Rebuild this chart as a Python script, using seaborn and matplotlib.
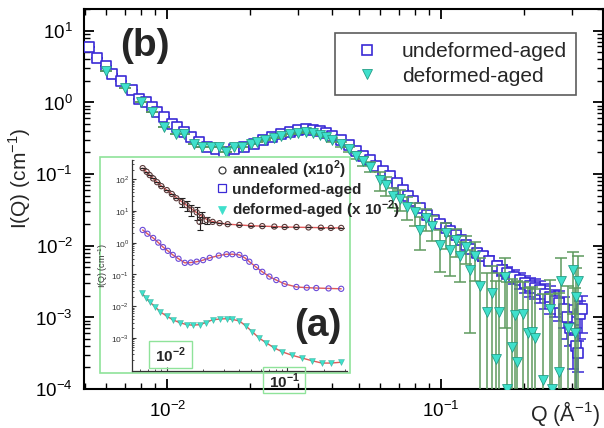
import numpy as np
import matplotlib
matplotlib.use("Agg")
import matplotlib.pyplot as plt
from matplotlib.lines import Line2D
from matplotlib.patches import Rectangle
import matplotlib.ticker as mticker
import seaborn as sns

# ---------------- main panel (b) data ----------------
q_undeformed = [0.00519, 0.00556, 0.00598, 0.0063, 0.0068, 0.00745, 0.0079, 0.00838, 0.0088, 0.0092,
                0.00975, 0.0104, 0.0109, 0.0115, 0.0122, 0.0131, 0.0140, 0.0151, 0.0161, 0.0176,
                0.0191, 0.0208, 0.0224, 0.0242, 0.026, 0.028, 0.030, 0.032, 0.034, 0.036,
                0.038, 0.040, 0.043, 0.046, 0.049, 0.052, 0.055, 0.058, 0.0615, 0.065,
                0.069, 0.0727, 0.076, 0.079, 0.084, 0.089, 0.094, 0.099, 0.104, 0.108,
                0.113, 0.118, 0.123, 0.128, 0.135, 0.142, 0.150, 0.160, 0.167, 0.174,
                0.184, 0.194, 0.202, 0.211, 0.220, 0.230, 0.240, 0.250, 0.260, 0.270,
                0.280, 0.288, 0.295, 0.303, 0.310, 0.316, 0.322, 0.326]
i_undeformed = [5.9, 4.2, 3.2, 2.5, 2.0, 1.5, 1.1, 1.0, 0.85, 0.72,
                0.62, 0.49, 0.45, 0.38, 0.33, 0.28, 0.235, 0.22, 0.205, 0.22,
                0.235, 0.26, 0.30, 0.33, 0.36, 0.39, 0.41, 0.42, 0.41, 0.40,
                0.37, 0.34, 0.30, 0.25, 0.21, 0.18, 0.155, 0.13, 0.11, 0.095,
                0.075, 0.060, 0.050, 0.042, 0.033, 0.027, 0.023, 0.020, 0.0175, 0.016,
                0.014, 0.012, 0.0102, 0.009, 0.008, 0.0071, 0.0062, 0.0052, 0.0046, 0.0042,
                0.0037, 0.0033, 0.0030, 0.0027, 0.0026, 0.0024, 0.0021, 0.0019, 0.0017, 0.0016,
                0.0013, 0.0010, 0.0007, 0.00049, 0.0004, 0.00032, 0.0011, 0.0013]
err_undeformed = [0] * 47 + [0.002, 0.0018, 0.0016, 0.0015, 0.0014, 0.0012, 0.0011, 0.001, 0.001, 0.0009,
                             0.0009, 0.0008, 0.0008, 0.0008, 0.0008, 0.0008, 0.0008, 0.0008, 0.0008, 0.0008,
                             0.0008, 0.0007, 0.0007, 0.0006, 0.0005, 0.0003, 0.0003, 0.0003, 0.00015,
                             0.0006, 0.0007]

q_deformed = [0.0060, 0.0070, 0.0080, 0.0088, 0.00975, 0.0108, 0.0115, 0.0125, 0.0134, 0.0145,
              0.0155, 0.0164, 0.0176, 0.0188, 0.0203, 0.0213, 0.0228, 0.0245, 0.026, 0.028,
              0.030, 0.032, 0.034, 0.036, 0.038, 0.040, 0.043, 0.046, 0.049, 0.052,
              0.055, 0.0598, 0.063, 0.0669, 0.071, 0.075, 0.080, 0.084, 0.088, 0.093,
              0.099, 0.104, 0.108, 0.113, 0.1176, 0.123, 0.128, 0.133, 0.139, 0.147,
              0.154, 0.158, 0.163, 0.171, 0.174, 0.181, 0.186, 0.190, 0.199, 0.208,
              0.215, 0.220, 0.235, 0.250, 0.255, 0.270, 0.275, 0.290, 0.303, 0.308,
              0.312, 0.315]
i_deformed = [2.7, 1.6, 1.0, 0.72, 0.45, 0.36, 0.36, 0.26, 0.24, 0.235,
              0.235, 0.205, 0.24, 0.24, 0.26, 0.28, 0.30, 0.32, 0.34, 0.36,
              0.37, 0.38, 0.37, 0.35, 0.33, 0.30, 0.26, 0.22, 0.18, 0.15,
              0.125, 0.083, 0.07, 0.049, 0.045, 0.035, 0.029, 0.0167, 0.024, 0.0186,
              0.0103, 0.015, 0.0088, 0.012, 0.0071, 0.0095, 0.0046, 0.0072, 0.0027, 0.0012,
              0.0022, 0.00026, 0.0012, 0.0037, 0.0001, 0.00039, 0.00108, 0.00024, 0.0011, 0.0006,
              0.00063, 0.00052, 0.000135, 0.0013, 0.0001, 0.00017, 0.0032, 0.0007, 0.0046, 0.0006,
              0.0019, 0.0032]
err_deformed = [0] * 25 + [0.02, 0.02, 0.02, 0.02, 0.02, 0.02, 0.025, 0.02, 0.015, 0.015,
                           0.012, 0.01, 0.008, 0.008, 0.007, 0.006, 0.006, 0.005, 0.005, 0.004,
                           0.004, 0.004, 0.004, 0.004, 0.003, 0.003, 0.003, 0.003, 0.003, 0.003,
                           0.003, 0.002, 0.003, 0.002, 0.002, 0.002, 0.002, 0.002, 0.002, 0.002,
                           0.002, 0.0035, 0.002, 0.0035, 0.002, 0.003, 0.004]

# ---------------- inset panel (a) data ----------------
q_ann = [0.0063, 0.0068, 0.0072, 0.0077, 0.0083, 0.0090, 0.0100, 0.0110, 0.0120, 0.0133,
         0.0146, 0.0160, 0.0177, 0.0187, 0.0195, 0.0214, 0.0240, 0.0274, 0.032, 0.040,
         0.050, 0.062, 0.078, 0.095, 0.119, 0.150, 0.190, 0.230, 0.280]
i_ann = [222, 170, 134, 105, 80, 60, 45, 34, 25, 19,
         15, 11, 9, 4.5, 6.5, 5.1, 4.5, 4.1, 3.8, 3.6,
         3.4, 3.3, 3.2, 3.1, 3.1, 3.0, 2.95, 2.9, 2.9]
err_ann = [0, 0, 0, 0, 0, 0, 0, 0, 0, 6,
           5, 4, 4, 2.0, 2.5, 1.2, 0, 0, 0, 0,
           0, 0, 0, 0, 0, 0, 0, 0, 0]
fit_ann = [222, 168, 134, 104, 80, 61, 45, 34, 26, 19.5,
           15, 11.5, 8.8, 7.6, 6.8, 5.4, 4.6, 4.1, 3.8, 3.6,
           3.4, 3.3, 3.2, 3.1, 3.05, 3.0, 2.95, 2.9, 2.9]

q_und_in = [0.0063, 0.0069, 0.0077, 0.0085, 0.0093, 0.0102, 0.0112, 0.0125, 0.0141, 0.0158,
            0.0177, 0.020, 0.0227, 0.027, 0.0313, 0.035, 0.040, 0.0445, 0.0484, 0.055,
            0.062, 0.071, 0.081, 0.095, 0.119, 0.145, 0.174, 0.220, 0.280]
i_und_in = [2.5, 1.9, 1.4, 1.0, 0.72, 0.55, 0.41, 0.31, 0.23, 0.235,
            0.25, 0.28, 0.33, 0.39, 0.43, 0.43, 0.41, 0.33, 0.25, 0.17,
            0.12, 0.085, 0.066, 0.05, 0.04, 0.038, 0.037, 0.036, 0.035]

q_def_in = [0.0062, 0.0067, 0.0072, 0.0080, 0.0088, 0.0100, 0.0112, 0.0128, 0.0146, 0.0165,
            0.0187, 0.021, 0.024, 0.0275, 0.0313, 0.035, 0.040, 0.045, 0.0513, 0.058,
            0.067, 0.078, 0.091, 0.110, 0.133, 0.160, 0.194, 0.230, 0.280]
i_def_in = [0.026, 0.018, 0.0135, 0.0095, 0.0066, 0.0048, 0.0037, 0.003, 0.0026, 0.0025,
            0.0026, 0.003, 0.0037, 0.0039, 0.004, 0.0038, 0.0034, 0.0024, 0.00155, 0.001,
            0.00069, 0.00048, 0.00036, 0.00028, 0.00023, 0.00019, 0.00016, 0.00016, 0.00017]

BLUE = "#3a2ad6"
CYAN = "#3fe0cc"
TEAL = "#259e86"
GREEN_ERR = "#5e9a5e"
FRAME_GREEN = "#8fe39a"
FIT_RED = "#e05a5a"

sns.set_theme(style="ticks")
plt.rcParams["font.family"] = ["Liberation Sans", "DejaVu Sans"]
plt.rcParams["mathtext.fontset"] = "custom"
plt.rcParams["mathtext.rm"] = "Liberation Sans"
plt.rcParams["mathtext.bf"] = "Liberation Sans:bold"

W, H = 604, 428
fig = plt.figure(figsize=(W / 100, H / 100), dpi=100)
fig.patch.set_facecolor("white")


def fx(px):
    return px / W


def fy(py):
    return 1 - py / H


ax = fig.add_axes([fx(84), fy(389), fx(603) - fx(84), fy(9) - fy(389)])
ax.set_xscale("log")
ax.set_yscale("log")

ax.errorbar(q_undeformed, i_undeformed, yerr=err_undeformed, fmt="none",
            ecolor=BLUE, elinewidth=1.1, capsize=4, capthick=1.1, zorder=2)
sns.scatterplot(x=q_undeformed, y=i_undeformed, marker="s", s=44, color=BLUE,
                facecolor="white", edgecolor=BLUE, linewidth=1.2, ax=ax, zorder=3)
ax.errorbar(q_deformed, i_deformed, yerr=err_deformed, fmt="none",
            ecolor=GREEN_ERR, elinewidth=1.1, capsize=4, capthick=1.1, zorder=4)
sns.scatterplot(x=q_deformed, y=i_deformed, marker="v", s=50, color=CYAN,
                edgecolor=TEAL, linewidth=0.6, ax=ax, zorder=5)

ax.set_xlim(0.00497, 0.39)
ax.set_ylim(1e-4, 20)
for side in ["top", "right", "left", "bottom"]:
    ax.spines[side].set_visible(True)
    ax.spines[side].set_linewidth(1.5)
    ax.spines[side].set_color("black")
ax.xaxis.set_major_locator(mticker.LogLocator(base=10, numticks=10))
ax.xaxis.set_minor_locator(mticker.LogLocator(base=10, subs=np.arange(2, 10), numticks=20))
ax.yaxis.set_major_locator(mticker.LogLocator(base=10, numticks=10))
ax.yaxis.set_minor_locator(mticker.LogLocator(base=10, subs=np.arange(2, 10), numticks=20))
ax.tick_params(which="both", direction="in", top=True, right=True, colors="black",
               labelsize=13.5, pad=8)
ax.tick_params(which="major", length=7, width=1.3)
ax.tick_params(which="minor", length=4, width=1.0)
ax.set_xticks([0.01, 0.1])
ax.set_xticklabels(["$10^{-2}$", "$10^{-1}$"])
ax.set_yticks([1e-4, 1e-3, 1e-2, 1e-1, 1, 10])
ax.set_yticklabels(["$10^{-4}$", "$10^{-3}$", "$10^{-2}$", "$10^{-1}$", "$10^{0}$", "$10^{1}$"])
ax.set_xlim(0.00497, 0.39)
ax.set_ylim(1e-4, 20)
ax.set_xlabel("")
ax.set_ylabel("")

fig.text(fx(20), fy(178), "I(Q) (cm$^{-1}$)", rotation=90, ha="center", va="center",
         fontsize=15)
fig.text(fx(600), fy(413), "Q (Å$^{-1}$)", ha="right", va="center", fontsize=15.5)
fig.text(fx(120), fy(46), "(b)", ha="left", va="center", fontsize=28, fontweight="bold")

main_handles = [
    Line2D([], [], linestyle="none", marker="s", markersize=7, markerfacecolor="white",
           markeredgecolor=BLUE, markeredgewidth=1.2),
    Line2D([], [], linestyle="none", marker="v", markersize=7.5, markerfacecolor=CYAN,
           markeredgecolor=TEAL, markeredgewidth=0.6),
]
leg = ax.legend(main_handles, ["undeformed-aged", "deformed-aged"], loc="upper left",
                bbox_to_anchor=(fx(335), fy(33)), bbox_transform=fig.transFigure,
                fontsize=15, frameon=True, fancybox=False, handletextpad=0.55,
                borderpad=0.45, labelspacing=0.25, handlelength=2.2, borderaxespad=0)
leg.get_frame().set_edgecolor("#333333")
leg.get_frame().set_linewidth(1.2)

# ---------------- inset ----------------
fig.patches.append(Rectangle((fx(100), fy(373)), fx(350) - fx(100), fy(157) - fy(373),
                             transform=fig.transFigure, facecolor="white",
                             edgecolor=FRAME_GREEN, linewidth=1.2, zorder=6))

axin = fig.add_axes([fx(132), fy(371), fx(347) - fx(132), fy(160) - fy(371)], zorder=7)
axin.set_xscale("log")
axin.set_yscale("log")
axin.patch.set_alpha(0)

sns.lineplot(x=q_ann, y=fit_ann, color=FIT_RED, linewidth=1.0, ax=axin, zorder=2)
axin.errorbar(q_ann, i_ann, yerr=err_ann, fmt="none", ecolor="#222222",
              elinewidth=0.8, capsize=2, capthick=0.8, zorder=3)
sns.scatterplot(x=q_ann, y=i_ann, marker="o", s=14, color="#5a3a3a", facecolor="none",
                edgecolor="#5a3a3a", linewidth=0.8, ax=axin, zorder=4)

sns.lineplot(x=q_und_in, y=i_und_in, color=FIT_RED, linewidth=1.0, ax=axin, zorder=2)
sns.scatterplot(x=q_und_in, y=i_und_in, marker="o", s=14, color="#6a4ad8", facecolor="none",
                edgecolor="#6a4ad8", linewidth=0.8, ax=axin, zorder=4)

sns.lineplot(x=q_def_in, y=i_def_in, color=FIT_RED, linewidth=1.0, ax=axin, zorder=2)
sns.scatterplot(x=q_def_in, y=i_def_in, marker="v", s=18, color=CYAN, edgecolor="#2aa890",
                linewidth=0.3, ax=axin, zorder=4)

axin.set_xlim(0.00514, 0.313)
axin.set_ylim(9e-5, 400)
for side in ["top", "right"]:
    axin.spines[side].set_visible(False)
for side in ["left", "bottom"]:
    axin.spines[side].set_linewidth(0.9)
    axin.spines[side].set_color("#333333")
axin.yaxis.set_major_locator(mticker.LogLocator(base=10, numticks=12))
axin.yaxis.set_minor_locator(mticker.LogLocator(base=10, subs=np.arange(2, 10), numticks=20))
axin.xaxis.set_major_locator(mticker.LogLocator(base=10, numticks=10))
axin.xaxis.set_minor_locator(mticker.LogLocator(base=10, subs=np.arange(2, 10), numticks=20))
axin.tick_params(which="both", direction="in", colors="#333333", labelsize=6, pad=2)
axin.tick_params(which="major", length=3, width=0.8)
axin.tick_params(which="minor", length=1.5, width=0.6)
axin.set_yticks([1e-3, 1e-2, 1e-1, 1, 10, 100])
axin.set_yticklabels(["$10^{-3}$", "$10^{-2}$", "$10^{-1}$", "$10^{0}$", "$10^{1}$", "$10^{2}$"])
axin.set_xticks([0.01, 0.1])
axin.set_xticklabels([])
axin.set_xlim(0.00514, 0.313)
axin.set_ylim(9e-5, 400)
axin.set_xlabel("")
axin.set_ylabel("I(Q) (cm$^{-1}$)", fontsize=6.5, labelpad=1, color="#333333")

inset_handles = [
    Line2D([], [], linestyle="none", marker="o", markersize=5, markerfacecolor="none",
           markeredgecolor="#3a3a3a", markeredgewidth=0.9),
    Line2D([], [], linestyle="none", marker="s", markersize=5.5, markerfacecolor="none",
           markeredgecolor=BLUE, markeredgewidth=0.9),
    Line2D([], [], linestyle="none", marker="v", markersize=6, markerfacecolor=CYAN,
           markeredgecolor=CYAN, markeredgewidth=0.5),
]
leg_in = fig.legend(inset_handles,
                    ["annealed (x10$^{\\mathbf{2}}$)", "undeformed-aged",
                     "deformed-aged (x 10$^{\\mathbf{-2}}$)"],
                    loc="upper left", bbox_to_anchor=(fx(204), fy(148)),
                    bbox_transform=fig.transFigure, frameon=False,
                    prop={"weight": "bold", "size": 11}, handletextpad=0.15,
                    labelspacing=0.12, handlelength=1.0, borderpad=0.2)
leg_in.set_zorder(9)

fig.text(fx(318), fy(326), "(a)", ha="center", va="center", fontsize=28,
         fontweight="bold", zorder=9)

# boxed decade labels of the inset abscissa
for (x0, y0, x1, y1, lab) in [(149, 341, 192, 368, "10$^{\\mathbf{-2}}$"),
                              (263, 367, 305, 393, "10$^{\\mathbf{-1}}$")]:
    fig.patches.append(Rectangle((fx(x0), fy(y1)), fx(x1) - fx(x0), fy(y0) - fy(y1),
                                 transform=fig.transFigure, facecolor="none",
                                 edgecolor=FRAME_GREEN, linewidth=1.0, zorder=10))
    fig.text(fx((x0 + x1) / 2), fy((y0 + y1) / 2 + 1), lab, ha="center", va="center",
             fontsize=11, fontweight="bold", zorder=11)

fig.savefig("out.png", dpi=100, facecolor="white")
